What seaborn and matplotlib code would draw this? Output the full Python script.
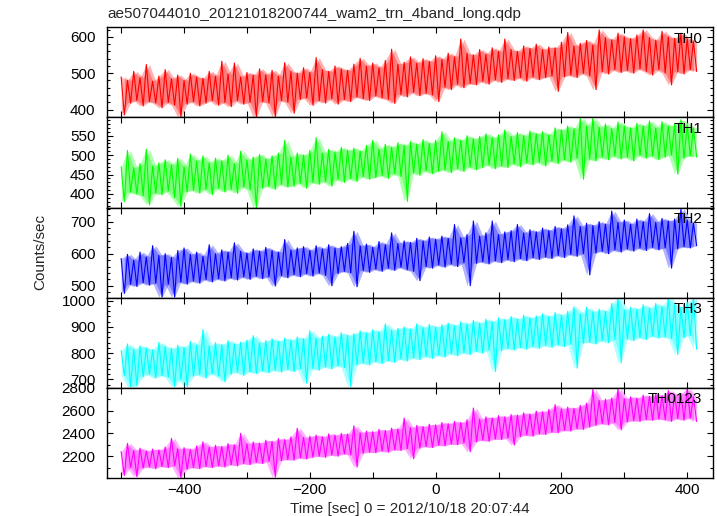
import matplotlib
matplotlib.use("Agg")
import numpy as np
import pandas as pd
import matplotlib.pyplot as plt
import seaborn as sns
from matplotlib.ticker import MultipleLocator

# Time grid (sec): upper excursions at t_hi, lower excursions at t_lo
t_hi = list(range(-500, 411, 10))
t_lo = list(range(-495, 416, 10))

panel_names = ["TH0", "TH1", "TH2", "TH3", "TH0123"]
panel_colors = ["#ff0000", "#00ff00", "#0000ff", "#00ffff", "#ff00ff"]

th0_hi = [490, 480, 505, 488, 524, 478, 492, 510, 485, 495,
          480, 500, 490, 486, 505, 492, 533, 498, 528, 490,
          502, 495, 512, 496, 508, 492, 529, 505, 500, 515,
          502, 543, 510, 505, 520, 512, 508, 525, 541, 520,
          528, 515, 535, 566, 525, 530, 545, 528, 540, 532,
          548, 538, 555, 545, 594, 555, 550, 565, 552, 570,
          560, 594, 565, 560, 575, 568, 580, 565, 572, 570,
          585, 612, 575, 582, 590, 578, 619, 598, 592, 610,
          600, 595, 605, 619, 598, 590, 615, 600, 596, 610,
          595, 588]
th0_lo = [385, 418, 425, 410, 422, 418, 405, 420, 412, 380,
          415, 422, 410, 418, 425, 412, 420, 408, 425, 415,
          420, 378, 422, 418, 380, 425, 420, 390, 428, 432,
          412, 425, 418, 430, 415, 428, 422, 435, 430, 425,
          438, 432, 428, 417, 442, 435, 448, 438, 445, 440,
          422, 462, 455, 470, 460, 472, 468, 478, 470, 482,
          475, 485, 480, 488, 478, 490, 482, 488, 492, 450,
          490, 495, 488, 500, 492, 455, 505, 498, 510, 502,
          508, 500, 512, 505, 495, 510, 500, 468, 505, 498,
          510, 505]

th1_hi = [470, 512, 468, 478, 515, 472, 480, 488, 475, 492,
          470, 503, 485, 498, 480, 492, 485, 500, 478, 510,
          488, 495, 502, 490, 498, 505, 538, 495, 505, 500,
          512, 545, 505, 515, 508, 520, 512, 518, 510, 525,
          538, 515, 528, 520, 532, 525, 535, 528, 540, 530,
          538, 560, 535, 545, 538, 550, 542, 548, 555, 545,
          552, 565, 548, 558, 550, 562, 555, 560, 552, 570,
          565, 575, 568, 595, 575, 595, 572, 580, 568, 585,
          575, 570, 582, 575, 588, 570, 586, 575, 580, 591,
          578, 570]
th1_lo = [380, 405, 400, 395, 372, 402, 398, 408, 390, 368,
          405, 410, 402, 412, 398, 415, 405, 412, 402, 418,
          410, 363, 415, 420, 412, 425, 418, 420, 428, 415,
          430, 425, 432, 420, 438, 430, 440, 432, 445, 438,
          442, 448, 440, 452, 445, 381, 455, 448, 460, 452,
          458, 462, 455, 465, 458, 470, 462, 468, 475, 465,
          472, 468, 478, 470, 480, 475, 482, 472, 485, 478,
          488, 482, 492, 438, 490, 485, 495, 488, 498, 490,
          495, 485, 500, 492, 498, 488, 495, 500, 451, 492,
          498, 495]

th2_hi = [585, 598, 580, 605, 590, 625, 595, 600, 588, 610,
          618, 598, 605, 592, 628, 600, 612, 605, 634, 608,
          602, 615, 608, 620, 610, 605, 644, 612, 618, 622,
          610, 625, 615, 628, 618, 622, 632, 670, 625, 630,
          620, 638, 628, 665, 632, 640, 635, 648, 640, 652,
          645, 655, 648, 691, 650, 660, 702, 655, 665, 702,
          660, 668, 672, 691, 665, 675, 668, 680, 672, 685,
          678, 690, 718, 685, 695, 688, 700, 692, 733, 698,
          705, 692, 708, 700, 725, 698, 710, 702, 708, 739,
          705, 695]
th2_lo = [476, 505, 498, 510, 502, 508, 465, 505, 465, 512,
          505, 515, 508, 520, 512, 522, 515, 525, 518, 528,
          520, 530, 522, 528, 499, 532, 525, 535, 528, 538,
          530, 540, 532, 500, 538, 545, 540, 497, 548, 542,
          552, 545, 555, 548, 558, 550, 545, 516, 560, 555,
          565, 558, 568, 560, 572, 500, 570, 575, 568, 578,
          572, 582, 575, 585, 578, 588, 582, 590, 585, 595,
          588, 598, 592, 600, 534, 602, 608, 600, 612, 605,
          615, 608, 618, 610, 620, 612, 618, 555, 615, 622,
          618, 625]

th3_hi = [810, 835, 815, 828, 820, 812, 841, 825, 818, 830,
          822, 845, 830, 890, 828, 840, 832, 848, 835, 842,
          850, 867, 840, 848, 855, 845, 858, 850, 862, 855,
          886, 858, 865, 872, 862, 878, 868, 875, 885, 878,
          890, 882, 912, 888, 895, 900, 892, 912, 898, 910,
          900, 908, 915, 905, 920, 912, 925, 915, 930, 920,
          935, 928, 940, 930, 945, 935, 942, 950, 940, 955,
          945, 960, 977, 950, 975, 958, 968, 960, 990, 1012,
          965, 975, 968, 985, 972, 990, 978, 1012, 985, 975,
          995, 1010]
th3_lo = [715, 672, 675, 710, 720, 705, 715, 708, 672, 700,
          672, 712, 718, 705, 722, 712, 691, 720, 728, 715,
          730, 722, 732, 725, 735, 728, 738, 730, 740, 685,
          742, 735, 748, 740, 752, 745, 672, 755, 762, 755,
          768, 760, 772, 765, 778, 770, 782, 775, 788, 780,
          792, 785, 798, 790, 802, 795, 808, 800, 812, 730,
          810, 818, 812, 822, 815, 825, 818, 830, 822, 832,
          825, 835, 743, 838, 842, 835, 848, 840, 852, 763,
          855, 848, 860, 852, 865, 858, 862, 855, 795, 860,
          868, 815]

th0123_hi = [2240, 2312, 2250, 2270, 2245, 2262, 2255, 2280, 2356, 2265,
             2275, 2260, 2290, 2326, 2280, 2295, 2285, 2310, 2300, 2400,
             2310, 2325, 2315, 2340, 2330, 2355, 2345, 2370, 2445, 2365,
             2375, 2385, 2370, 2395, 2385, 2400, 2395, 2466, 2405, 2420,
             2415, 2435, 2425, 2445, 2440, 2534, 2450, 2470, 2460, 2480,
             2475, 2495, 2485, 2505, 2495, 2520, 2622, 2525, 2545, 2535,
             2555, 2545, 2565, 2560, 2580, 2570, 2595, 2590, 2610, 2652,
             2615, 2630, 2620, 2645, 2665, 2785, 2690, 2700, 2710, 2790,
             2705, 2720, 2710, 2735, 2725, 2745, 2730, 2775, 2740, 2750,
             2790, 2720]
th0123_lo = [2030, 2100, 2020, 2095, 2105, 2090, 2110, 2100, 2115, 2010,
             2085, 2100, 2090, 2110, 2100, 2115, 2105, 2125, 2115, 2135,
             2125, 2145, 2135, 2155, 2016, 2160, 2170, 2165, 2185, 2175,
             2190, 2200, 2190, 2210, 2200, 2220, 2210, 2104, 2225, 2235,
             2230, 2245, 2235, 2255, 2250, 2265, 2178, 2270, 2285, 2275,
             2295, 2290, 2305, 2300, 2315, 2238, 2325, 2340, 2330, 2350,
             2345, 2360, 2297, 2370, 2385, 2375, 2395, 2390, 2410, 2405,
             2425, 2420, 2440, 2435, 2455, 2470, 2485, 2475, 2495, 2430,
             2500, 2510, 2505, 2520, 2515, 2525, 2520, 2505, 2530, 2515,
             2535, 2504]

panel_hi = [th0_hi, th1_hi, th2_hi, th3_hi, th0123_hi]
panel_lo = [th0_lo, th1_lo, th2_lo, th3_lo, th0123_lo]

panel_ylims = [(378.5, 626), (365, 597), (463, 744), (668, 1012), (2010, 2800)]
panel_major = [100, 50, 100, 100, 200]
panel_minor = [20, 10, 20, 20, 100]

title_text = "ae507044010_20121018200744_wam2_trn_4band_long.qdp"
xlabel_text = "Time [sec] 0 = 2012/10/18 20:07:44"
ylabel_text = "Counts/sec"

sns.set_theme(style="ticks")
plt.rcParams['font.family'] = ['Liberation Sans', 'DejaVu Sans']
plt.rcParams['axes.unicode_minus'] = True

fig = plt.figure(figsize=(7.17, 5.16), dpi=100)
gs = fig.add_gridspec(5, 1, left=0.1488, right=0.9944, top=0.947, bottom=0.074, hspace=0)

for i in range(5):
    ax = fig.add_subplot(gs[i])
    df = pd.DataFrame({
        "time": t_hi + t_lo,
        "counts": panel_hi[i] + panel_lo[i],
    }).sort_values("time")
    # light scatter band between upper and lower excursions
    ax.fill_between(t_hi, panel_lo[i], panel_hi[i], color=panel_colors[i],
                    alpha=0.3, lw=0)
    ax.fill_between(t_lo, panel_lo[i], panel_hi[i], color=panel_colors[i],
                    alpha=0.3, lw=0)
    sns.lineplot(data=df, x="time", y="counts", ax=ax, color=panel_colors[i],
                 lw=0.8, estimator=None, sort=True)
    ax.set_xlim(-523, 441)
    ax.set_ylim(*panel_ylims[i])
    ax.xaxis.set_major_locator(MultipleLocator(200))
    ax.xaxis.set_minor_locator(MultipleLocator(100))
    ax.yaxis.set_major_locator(MultipleLocator(panel_major[i]))
    ax.yaxis.set_minor_locator(MultipleLocator(panel_minor[i]))
    ax.tick_params(axis="both", which="both", direction="in", top=True, right=True,
                   colors="black", width=0.8)
    ax.tick_params(axis="x", which="both", length=4.5, pad=4, labelsize=11)
    ax.tick_params(axis="y", which="major", length=4.5, pad=8, labelsize=11)
    ax.tick_params(axis="y", which="minor", length=2.3)
    ax.set_xlabel("")
    ax.set_ylabel("")
    for sp in ax.spines.values():
        sp.set_linewidth(1.0)
        sp.set_color("black")
    if i < 4:
        ax.tick_params(axis="x", labelbottom=False)
    else:
        ax.set_xlabel(xlabel_text, fontsize=11, labelpad=3)
    ax.text(0.982, 0.875, panel_names[i], transform=ax.transAxes, ha="right",
            va="center", fontsize=11, color="black", zorder=5)

fig.text(107 / 717, 1 - 14 / 516, title_text, ha="left", va="center", fontsize=11)
fig.text(40 / 717, 0.512, ylabel_text, ha="center", va="center", rotation=90, fontsize=11)

fig.savefig("out.png", dpi=100)
